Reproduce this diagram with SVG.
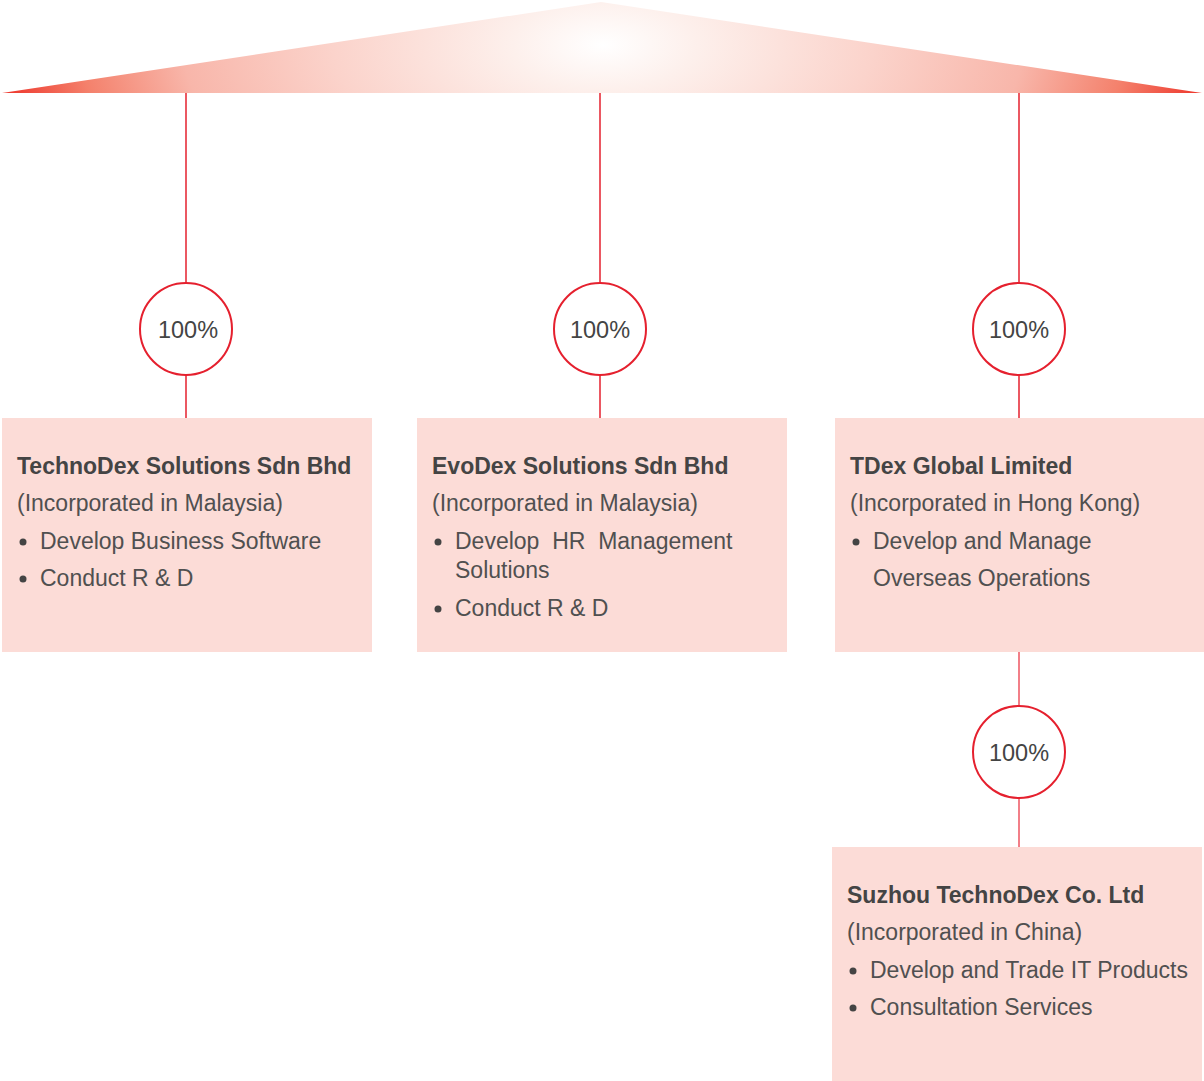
<svg xmlns="http://www.w3.org/2000/svg" width="1204" height="1081" viewBox="0 0 1204 1081">
<defs>
<radialGradient id="roof" gradientUnits="userSpaceOnUse" cx="603" cy="45" r="600" gradientTransform="translate(603 45) scale(1 0.5) translate(-603 -45)">
<stop offset="0" stop-color="#ffffff"/>
<stop offset="0.15" stop-color="#fdf0ec"/>
<stop offset="0.45" stop-color="#fbd3cb"/>
<stop offset="0.7" stop-color="#f8b6aa"/>
<stop offset="0.87" stop-color="#f4816c"/>
<stop offset="1" stop-color="#ee3b30"/>
</radialGradient>
<style>
.box{fill:#fcdcd7}
.ring{fill:#ffffff;stroke:#e5202e;stroke-width:2}
.pct{font-family:"Liberation Sans",Arial,sans-serif;font-size:23.5px;fill:#444;text-anchor:middle}
.t{font-family:"Liberation Sans",Arial,sans-serif;font-size:23px;font-weight:bold;fill:#444}
.s{font-family:"Liberation Sans",Arial,sans-serif;font-size:23px;fill:#505050}
.b{fill:#444}
.conn line{stroke:#e5202e;stroke-width:1.5}
</style>
</defs>
<polygon id="roof-shape" points="2,93 601,2 1202,93" fill="url(#roof)"/>
<g class="conn">
<line x1="186" y1="93" x2="186" y2="418"/>
<line x1="600" y1="93" x2="600" y2="418"/>
<line x1="1019" y1="93" x2="1019" y2="418"/>
<line x1="1019" y1="652" x2="1019" y2="847" style="stroke:#ee5560"/>
</g>
<g id="pct1"><circle class="ring" cx="186" cy="329" r="46"/><text class="pct" x="188" y="338">100%</text></g>
<g id="pct2"><circle class="ring" cx="600" cy="329" r="46"/><text class="pct" x="600" y="338">100%</text></g>
<g id="pct3"><circle class="ring" cx="1019" cy="329" r="46"/><text class="pct" x="1019" y="338">100%</text></g>
<g id="pct4"><circle class="ring" cx="1019" cy="752" r="46"/><text class="pct" x="1019" y="761">100%</text></g>
<g id="technodex">
<rect class="box" x="2" y="418" width="370" height="234"/>
<text class="t" x="17" y="474">TechnoDex Solutions Sdn Bhd</text>
<text class="s" x="17" y="511">(Incorporated in Malaysia)</text>
<circle class="b" cx="23" cy="542" r="3.5"/>
<text class="s" x="40" y="549">Develop Business Software</text>
<circle class="b" cx="23" cy="579" r="3.5"/>
<text class="s" x="40" y="586">Conduct R &amp; D</text>
</g>
<g id="evodex">
<rect class="box" x="417" y="418" width="370" height="234"/>
<text class="t" x="432" y="474">EvoDex Solutions Sdn Bhd</text>
<text class="s" x="432" y="511">(Incorporated in Malaysia)</text>
<circle class="b" cx="438" cy="542" r="3.5"/>
<text class="s" x="455" y="549" xml:space="preserve">Develop  HR  Management</text>
<text class="s" x="455" y="578">Solutions</text>
<circle class="b" cx="438" cy="609" r="3.5"/>
<text class="s" x="455" y="616">Conduct R &amp; D</text>
</g>
<g id="tdex">
<rect class="box" x="835" y="418" width="369" height="234"/>
<text class="t" x="850" y="474">TDex Global Limited</text>
<text class="s" x="850" y="511">(Incorporated in Hong Kong)</text>
<circle class="b" cx="856" cy="542" r="3.5"/>
<text class="s" x="873" y="549">Develop and Manage</text>
<text class="s" x="873" y="586">Overseas Operations</text>
</g>
<g id="suzhou">
<rect class="box" x="832" y="847" width="370" height="234"/>
<text class="t" x="847" y="903">Suzhou TechnoDex Co. Ltd</text>
<text class="s" x="847" y="940">(Incorporated in China)</text>
<circle class="b" cx="853" cy="971" r="3.5"/>
<text class="s" x="870" y="978">Develop and Trade IT Products</text>
<circle class="b" cx="853" cy="1008" r="3.5"/>
<text class="s" x="870" y="1015">Consultation Services</text>
</g>
</svg>
